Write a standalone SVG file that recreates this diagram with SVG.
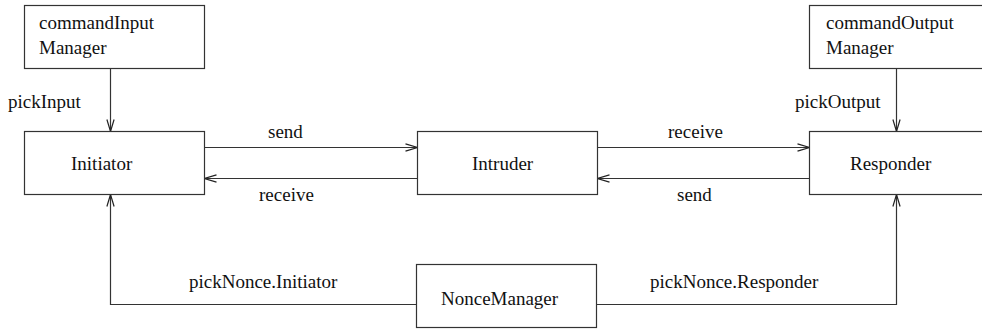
<svg xmlns="http://www.w3.org/2000/svg" width="982" height="330" viewBox="0 0 982 330">
  <style>
    .box { fill: #ffffff; stroke: #333333; stroke-width: 1.2; }
    .conn { fill: none; stroke: #333333; stroke-width: 1.2; }
    .lbl { font-family: "Liberation Serif", "Times New Roman", serif; font-size: 19px; fill: #111111; }
  </style>
  <defs>
    <marker id="open" markerUnits="userSpaceOnUse" markerWidth="16" markerHeight="10" viewBox="-14 -5 16 10" refX="0" refY="0" orient="auto">
      <path d="M -12,-3.6 L 0,0 L -12,3.6" fill="none" stroke="#222222" stroke-width="1.2"/>
    </marker>
  </defs>
  <rect width="982" height="330" fill="#ffffff"/>

  <g id="connectors">
    <line class="conn" x1="110.5" y1="68.5" x2="110.5" y2="131.5" marker-end="url(#open)"/>
    <line class="conn" x1="896.5" y1="68.5" x2="896.5" y2="131.5" marker-end="url(#open)"/>
    <line class="conn" x1="204.5" y1="147.5" x2="417.5" y2="147.5" marker-end="url(#open)"/>
    <line class="conn" x1="417.5" y1="178.5" x2="204.5" y2="178.5" marker-end="url(#open)"/>
    <line class="conn" x1="597.5" y1="147.5" x2="809.5" y2="147.5" marker-end="url(#open)"/>
    <line class="conn" x1="809.5" y1="178.5" x2="597.5" y2="178.5" marker-end="url(#open)"/>
    <polyline class="conn" points="416.5,304.5 110.5,304.5 110.5,194.5" marker-end="url(#open)"/>
    <polyline class="conn" points="596.5,304.5 896.5,304.5 896.5,194.5" marker-end="url(#open)"/>
    <text class="lbl" x="8" y="108">pickInput</text>
    <text class="lbl" x="795" y="108">pickOutput</text>
    <text class="lbl" x="268" y="138">send</text>
    <text class="lbl" x="259" y="201">receive</text>
    <text class="lbl" x="668" y="138">receive</text>
    <text class="lbl" x="677" y="201">send</text>
    <text class="lbl" x="189" y="288">pickNonce.Initiator</text>
    <text class="lbl" x="650" y="288">pickNonce.Responder</text>
  </g>

  <g id="commandInputManager">
    <rect class="box" x="24.5" y="5.5" width="180" height="63"/>
    <text class="lbl" x="39" y="29">commandInput</text>
    <text class="lbl" x="39" y="54">Manager</text>
  </g>
  <g id="commandOutputManager">
    <rect class="box" x="809.5" y="5.5" width="200" height="63"/>
    <text class="lbl" x="826" y="29">commandOutput</text>
    <text class="lbl" x="826" y="54">Manager</text>
  </g>
  <g id="Initiator">
    <rect class="box" x="24.5" y="131.5" width="180" height="63"/>
    <text class="lbl" x="71" y="170">Initiator</text>
  </g>
  <g id="Intruder">
    <rect class="box" x="417.5" y="131.5" width="180" height="63"/>
    <text class="lbl" x="472" y="170">Intruder</text>
  </g>
  <g id="Responder">
    <rect class="box" x="809.5" y="131.5" width="200" height="63"/>
    <text class="lbl" x="850" y="170">Responder</text>
  </g>
  <g id="NonceManager">
    <rect class="box" x="416.5" y="264.5" width="180" height="63"/>
    <text class="lbl" x="441" y="305">NonceManager</text>
  </g>
</svg>
